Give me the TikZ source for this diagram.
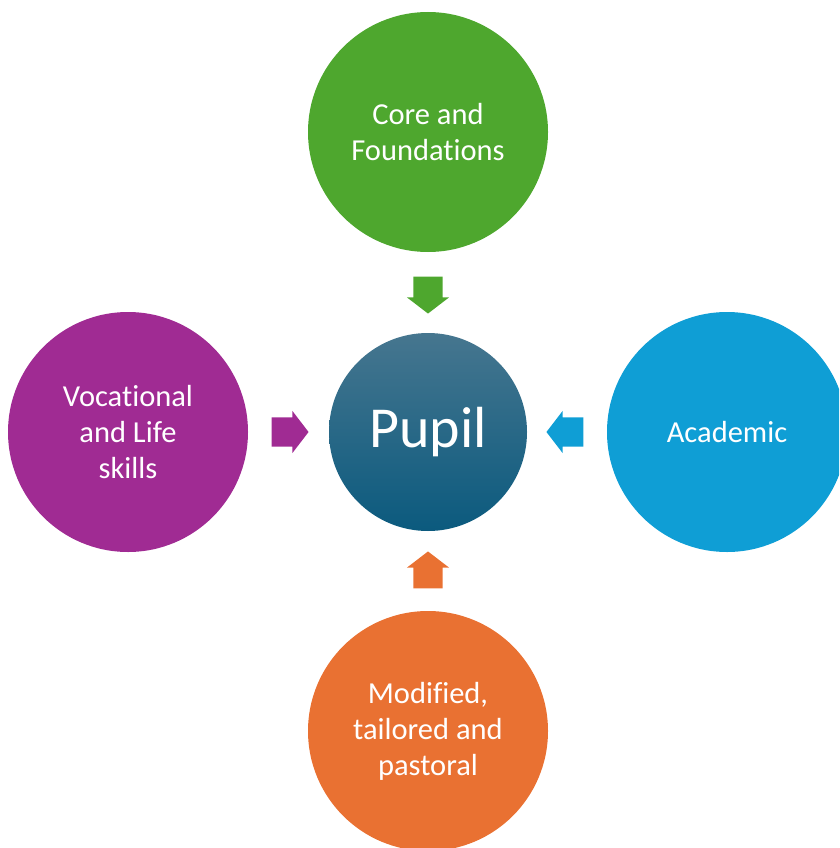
\documentclass[tikz,border=0pt]{standalone}
\usepackage{fontspec}
\setmainfont{Carlito}[RawFeature={-liga;-clig;-calt;-dlig;-rlig}]
\usetikzlibrary{shapes.arrows}

\definecolor{coregreen}{HTML}{4EA72E}
\definecolor{vocpurple}{HTML}{A02B93}
\definecolor{acadblue}{HTML}{0F9ED5}
\definecolor{modorange}{HTML}{E97132}
\definecolor{pupiltop}{HTML}{46768F}
\definecolor{pupilbot}{HTML}{0B5A7E}

\tikzset{
  area/.style={circle, minimum size=240pt, inner sep=0pt, align=center,
    text=white, font=\fontsize{30.5}{36}\selectfont},
  blockarrow/.style={single arrow, draw=none, fill=#1, anchor=tip,
    minimum height=37pt, minimum width=0pt,
    single arrow head extend=6.5pt, single arrow tip angle=105},
  harrow/.style={blockarrow=#1, inner xsep=0pt, inner ysep=14.5pt},
  varrow/.style={blockarrow=#1, inner xsep=14.5pt, inner ysep=0pt}
}

\begin{document}
\begin{tikzpicture}[x=1pt, y=-1pt]

  % --- Marco ---
  \useasboundingbox (0,0) rectangle (839,848);
  \clip (0,0) rectangle (839,848);

  % --- Centro ---
  \node[circle, minimum size=198pt, inner sep=0pt, top color=pupiltop,
    bottom color=pupilbot, text=white, font=\fontsize{58}{70}\selectfont]
    (pupil) at (428,432) {Pupil};

  % --- Areas ---
  \node[area, fill=coregreen]  (core) at (428,132) {Core and\\Foundations};
  \node[area, fill=vocpurple]  (voc)  at (128,432) {Vocational\\and Life\\skills};
  \node[area, fill=acadblue]   (acad) at (727,432) {Academic};
  \node[area, fill=modorange]  (mod)  at (428,731) {Modified,\\tailored and\\pastoral};

  % --- Flechas hacia el centro ---
  \node[varrow=coregreen, shape border rotate=270] (corearr)
    at ([yshift=19pt]pupil.north) {};
  \node[harrow=vocpurple, shape border rotate=0]   (vocarr)
    at ([xshift=-20pt]pupil.west) {};
  \node[harrow=acadblue,  shape border rotate=180] (acadarr)
    at ([xshift=19pt]pupil.east) {};
  \node[varrow=modorange, shape border rotate=90]  (modarr)
    at ([yshift=-20pt]pupil.south) {};

\end{tikzpicture}
\end{document}
